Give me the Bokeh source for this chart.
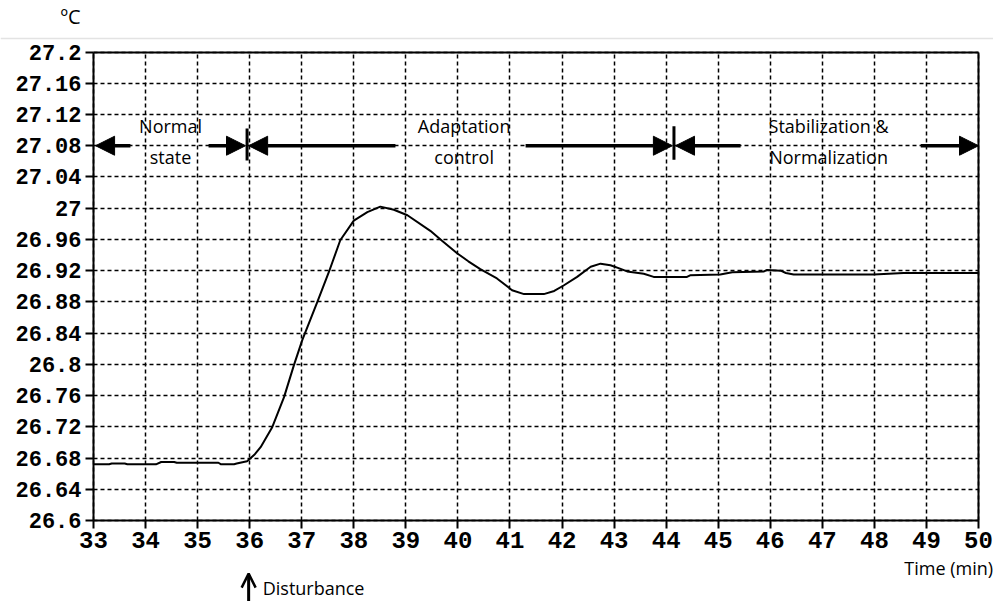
from bokeh.plotting import figure
from bokeh.models import Arrow, NormalHead, OpenHead, Label, FixedTicker, Range1d, LinearAxis, Span, Grid
from bokeh.embed import file_html
from bokeh.resources import INLINE

# ---- data ----
time_min = [33.0, 33.3, 33.35, 33.6, 33.65, 34.2, 34.3, 34.55, 34.6, 35.4, 35.45, 35.7, 35.75, 35.95,
            36.1, 36.21, 36.43, 36.66, 36.85, 37.01, 37.3, 37.52, 37.74, 38.0, 38.26,
            38.51, 38.77, 39.03, 39.47, 39.7, 39.99, 40.2, 40.43, 40.75, 41.04, 41.27, 41.65, 41.85,
            42.03, 42.29, 42.55, 42.74, 42.93, 43.1, 43.25, 43.57, 43.76, 44.4, 44.46, 45.04, 45.27,
            45.88, 45.94, 46.2, 46.3, 46.45, 47.99, 48.56, 50.0]
temp_c = [26.672, 26.672, 26.673, 26.673, 26.672, 26.672, 26.675, 26.675, 26.674, 26.674, 26.672, 26.672, 26.673, 26.676,
          26.685, 26.694, 26.719, 26.758, 26.799, 26.831, 26.880, 26.918, 26.959, 26.984, 26.995,
          27.002, 26.998, 26.991, 26.971, 26.958, 26.942, 26.932, 26.922, 26.910, 26.895, 26.890, 26.890, 26.894,
          26.901, 26.912, 26.925, 26.929, 26.927, 26.923, 26.919, 26.916, 26.912, 26.912, 26.914, 26.915, 26.918,
          26.919, 26.921, 26.920, 26.917, 26.915, 26.915, 26.917, 26.917]

x_ticks = [33, 34, 35, 36, 37, 38, 39, 40, 41, 42, 43, 44, 45, 46, 47, 48, 49, 50]
y_ticks = [26.6, 26.64, 26.68, 26.72, 26.76, 26.8, 26.84, 26.88, 26.92, 26.96, 27.0, 27.04, 27.08, 27.12, 27.16, 27.2]
y_tick_labels = ["26.6", "26.64", "26.68", "26.72", "26.76", "26.8", "26.84", "26.88", "26.92", "26.96",
                 "27", "27.04", "27.08", "27.12", "27.16", "27.2"]
x_lo, x_hi = 33, 50
y_lo, y_hi = 26.6, 27.2

# phase annotation
arrow_y = 27.08
arrow_tails = [33.71, 35.21, 38.80, 41.30, 45.43, 48.89]
arrow_tips = [33.04, 35.92, 35.98, 44.12, 44.18, 50.0]
bar_x = [35.95, 44.15]
bar_y0 = [27.061, 27.062]
bar_y1 = [27.102, 27.105]
phase_line1 = ["Normal", "Adaptation", "Stabilization &"]
phase_line2 = ["state", "control", "Normalization"]
phase_x = [34.48, 40.12, 47.12]
phase_y = [27.1047, 27.066]

disturbance_x = 35.98

FONT = "Open Sans"
TICKFONT = "Liberation Mono"

# The frame covers the whole canvas; axes are pinned at the data box edges
p = figure(width=993, height=601, x_range=Range1d(31.2136, 50.2879), y_range=Range1d(26.4963, 27.2660),
           output_backend="svg", toolbar_location=None,
           min_border_left=0, min_border_right=0, min_border_top=0, min_border_bottom=0)
p.background_fill_color = "white"
p.border_fill_color = "white"
p.outline_line_color = None

p.xaxis.ticker = FixedTicker(ticks=x_ticks)
p.yaxis.ticker = FixedTicker(ticks=y_ticks)
p.yaxis.major_label_overrides = {t: l for t, l in zip(y_ticks, y_tick_labels)}
p.xaxis.fixed_location = y_lo
p.yaxis.fixed_location = x_lo
p.xaxis.bounds = (x_lo, x_hi)
p.yaxis.bounds = (y_lo, y_hi)
for ax in (p.xaxis[0], p.yaxis[0]):
    ax.axis_line_width = 2
    ax.axis_line_color = "black"
    ax.major_tick_line_width = 2
    ax.major_tick_line_color = "black"
    ax.major_tick_out = 8
    ax.major_tick_in = 0
    ax.minor_tick_line_color = None
    ax.major_label_text_font = TICKFONT
    ax.major_label_text_font_style = "bold"
    ax.major_label_text_color = "black"
p.yaxis.major_label_standoff = 4
p.xaxis.major_label_standoff = 3
p.yaxis.major_label_text_font_size = "22px"
p.xaxis.major_label_text_font_size = "24px"

# top and right border lines
top_axis = LinearAxis(fixed_location=y_hi, bounds=(x_lo, x_hi), ticker=FixedTicker(ticks=[]),
                      axis_line_width=2, axis_line_color="black", major_tick_line_color=None,
                      minor_tick_line_color=None, major_label_text_font_size="0px")
right_axis = LinearAxis(fixed_location=x_hi, bounds=(y_lo, y_hi), ticker=FixedTicker(ticks=[]),
                        axis_line_width=2, axis_line_color="black", major_tick_line_color=None,
                        minor_tick_line_color=None, major_label_text_font_size="0px")
p.add_layout(top_axis, "above")
p.add_layout(right_axis, "right")

# grid, limited to the data box
if "cross_bounds" in Grid.properties():
    p.xgrid.cross_bounds = (y_lo, y_hi)
    p.ygrid.cross_bounds = (x_lo, x_hi)
    for g in (p.xgrid[0], p.ygrid[0]):
        g.grid_line_color = "black"
        g.grid_line_dash = "4 3"
        g.grid_line_width = 1.5
else:
    p.xgrid.grid_line_color = None
    p.ygrid.grid_line_color = None
    p.segment(x0=x_ticks, y0=[y_lo] * len(x_ticks), x1=x_ticks, y1=[y_hi] * len(x_ticks),
              line_color="black", line_dash="4 3", line_width=1.5)
    p.segment(x0=[x_lo] * len(y_ticks), y0=y_ticks, x1=[x_hi] * len(y_ticks), y1=y_ticks,
              line_color="black", line_dash="4 3", line_width=1.5)

p.line(time_min, temp_c, line_color="black", line_width=2)

# phase arrows
for xs, xe in zip(arrow_tails, arrow_tips):
    p.add_layout(Arrow(x_start=xs, y_start=arrow_y, x_end=xe, y_end=arrow_y, line_width=3.5,
                       line_color="black",
                       end=NormalHead(size=19, fill_color="black", line_color="black", line_width=1)))
p.segment(x0=bar_x, y0=bar_y0, x1=bar_x, y1=bar_y1, line_color="black", line_width=3)

for x, t1, t2 in zip(phase_x, phase_line1, phase_line2):
    p.add_layout(Label(x=x, y=phase_y[0], text=t1, text_align="center", text_baseline="alphabetic",
                       text_font=FONT, text_font_size="18px", text_color="black"))
    p.add_layout(Label(x=x, y=phase_y[1], text=t2, text_align="center", text_baseline="alphabetic",
                       text_font=FONT, text_font_size="18px", text_color="black"))

# header unit and separator
p.add_layout(Label(x=32.366, y=27.2455, text="ºC", text_align="left", text_baseline="alphabetic",
                   text_font=FONT, text_font_size="20px", text_color="black"))
p.add_layout(Span(location=27.2173, dimension="width", line_color="#e3e3e3", line_width=1.5))

# x-axis title and disturbance marker
p.add_layout(Label(x=50.28, y=26.5386, text="Time (min)", text_align="right", text_baseline="alphabetic",
                   text_font=FONT, text_font_size="18px", text_color="black"))
p.add_layout(Label(x=36.25, y=26.513, text="Disturbance", text_align="left", text_baseline="alphabetic",
                   text_font=FONT, text_font_size="18px", text_color="black"))
p.add_layout(Arrow(x_start=disturbance_x, y_start=26.4963, x_end=disturbance_x, y_end=26.532,
                   line_width=3, line_color="black",
                   end=OpenHead(size=14, line_width=2.5, line_color="black")))

open("out.html", "w").write(file_html(p, INLINE))
